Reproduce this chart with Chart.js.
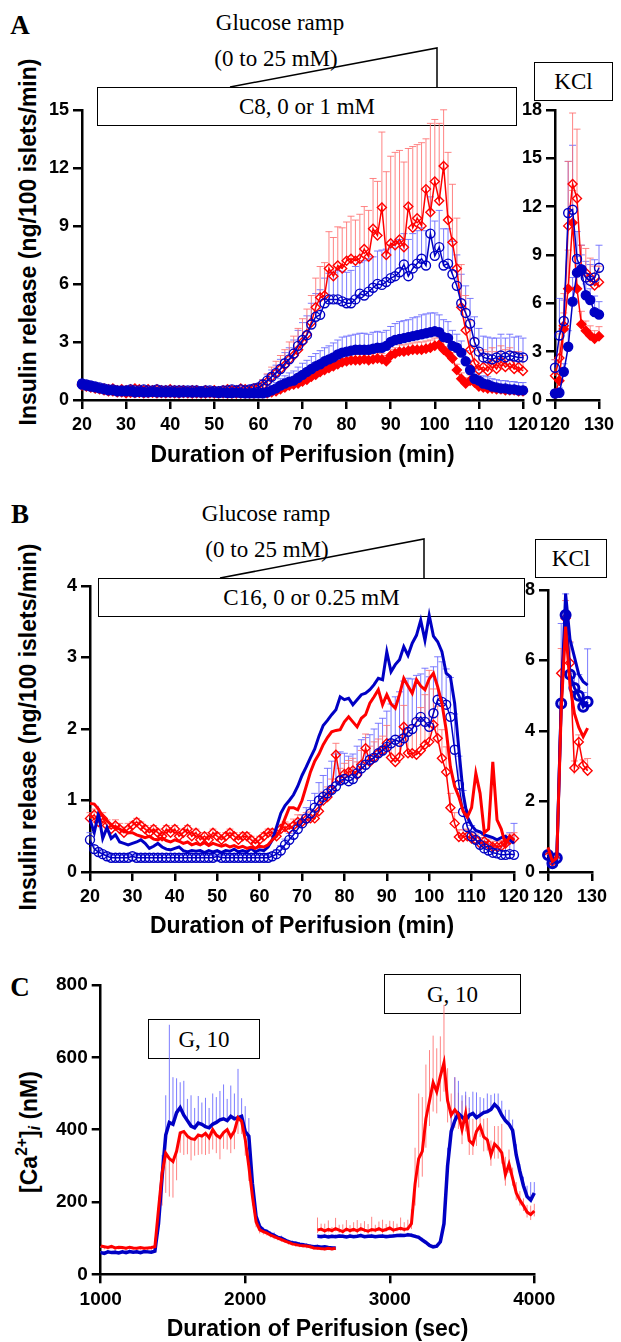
<!DOCTYPE html>
<html><head><meta charset="utf-8">
<script src="https://cdn.jsdelivr.net/npm/chart.js@4.4.1/dist/chart.umd.min.js"></script>
<style>
html,body{margin:0;padding:0;background:#fff;}
#page{position:relative;width:621px;height:1342px;overflow:hidden;background:#fff;}
canvas{position:absolute;}
.t{position:absolute;transform:translate(-50%,-50%);white-space:nowrap;font-family:"Liberation Serif","Times New Roman",serif;font-size:23px;color:#000;line-height:1;}
.pl{position:absolute;transform:translate(-50%,-50%);font-family:"Liberation Serif","Times New Roman",serif;font-weight:bold;font-size:27px;line-height:1;}
.box{position:absolute;box-sizing:border-box;border:1.5px solid #000;display:flex;align-items:center;justify-content:center;font-family:"Liberation Serif","Times New Roman",serif;font-size:23px;line-height:1;white-space:nowrap;}
.yt{position:absolute;transform:translate(-50%,-50%) rotate(-90deg);white-space:nowrap;font-family:"Liberation Sans",Arial,sans-serif;font-weight:bold;font-size:23px;line-height:1;}
.yt sup{font-size:0.68em;vertical-align:0.6em;line-height:0;}
.yt sub{font-size:0.68em;vertical-align:-0.2em;line-height:0;}
</style></head>
<body><div id="page">
<svg width="621" height="1342" style="position:absolute;left:0;top:0">
<polyline points="230,87 437,48 437,87" fill="none" stroke="#000" stroke-width="1.5"/>
<polyline points="220,578 424,539 424,578" fill="none" stroke="#000" stroke-width="1.5"/>
</svg>
<div class="pl" style="left:20px;top:25px">A</div>
<div class="t" style="left:280px;top:22px">Glucose ramp</div>
<div class="t" style="left:276px;top:58px">(0 to 25 mM)</div>
<div class="box" style="left:97px;top:87px;width:420px;height:39px">C8, 0 or 1 mM</div>
<div class="box" style="left:534px;top:62px;width:79px;height:39px">KCl</div>
<div class="yt" style="left:28px;top:242px">Insulin release (ng/100 islets/min)</div>

<div class="pl" style="left:20px;top:514px">B</div>
<div class="t" style="left:266px;top:513px">Glucose ramp</div>
<div class="t" style="left:267px;top:549px">(0 to 25 mM)</div>
<div class="box" style="left:98px;top:578px;width:427px;height:39px">C16, 0 or 0.25 mM</div>
<div class="box" style="left:535px;top:539px;width:72px;height:39px">KCl</div>
<div class="yt" style="left:28px;top:727px">Insulin release (ng/100 islets/min)</div>

<div class="pl" style="left:20px;top:987px">C</div>
<div class="box" style="left:148px;top:1019px;width:112px;height:40px">G, 10</div>
<div class="box" style="left:384px;top:974px;width:137px;height:40px">G, 10</div>
<div class="yt" style="left:29px;top:1132px">[Ca<sup>2+</sup>]<sub><i>i</i></sub> (nM)</div>

<canvas id="cA"></canvas>
<canvas id="cAk"></canvas>
<canvas id="cB"></canvas>
<canvas id="cBk"></canvas>
<canvas id="cC"></canvas>
</div>
<script>
// ---------- Panel A (C8) : minutes 20..120 ----------
const minA = Array.from({length:101},(_, i)=>20+i);
const aYTicks = [0,3,6,9,12,15];
const aXTicks = [20,30,40,50,60,70,80,90,100,110,120];
const aBlueOpen = [
0.85,0.8,0.75,0.7,0.65,0.6,0.55,0.55,0.5,0.5,
0.5,0.55,0.5,0.5,0.55,0.5,0.5,0.55,0.5,0.5,
0.5,0.5,0.5,0.5,0.5,0.5,0.5,0.45,0.5,0.5,
0.45,0.45,0.5,0.5,0.55,0.5,0.55,0.5,0.55,0.6,
0.65,0.8,1.0,1.2,1.4,1.6,1.9,2.1,2.4,2.8,
3.1,3.35,3.9,4.3,4.4,5.0,5.2,5.2,5.2,5.1,
5.0,5.0,5.2,5.5,5.4,5.6,5.8,6.0,5.95,6.1,
6.3,6.4,6.6,7.0,6.4,6.8,7.05,7.3,6.95,8.6,
7.45,7.9,6.95,7.05,6.5,5.9,5.0,4.5,3.95,3.0,
2.5,2.2,2.15,2.1,2.2,2.3,2.2,2.3,2.25,2.2,
2.2];
const aBlueOpenErr = [
0.2,0.2,0.2,0.15,0.15,0.15,0.15,0.15,0.15,0.15,
0.15,0.15,0.15,0.15,0.15,0.15,0.15,0.15,0.15,0.15,
0.15,0.15,0.15,0.15,0.15,0.15,0.15,0.15,0.15,0.15,
0.15,0.15,0.15,0.15,0.15,0.15,0.15,0.15,0.2,0.2,
0.2,0.25,0.3,0.35,0.4,0.5,0.55,0.6,0.7,0.8,
0.9,1.0,1.1,1.2,1.3,1.3,1.35,1.4,1.5,1.55,
1.6,1.7,1.7,1.6,1.8,1.7,1.6,1.7,1.8,1.7,
1.7,1.8,1.7,1.6,1.9,1.8,1.7,1.6,1.8,1.9,
1.8,1.9,1.9,1.8,1.7,1.6,1.5,1.4,1.3,1.3,
1.2,1.1,1.1,1.1,1.0,1.1,1.0,1.1,1.0,1.1,
1.0];
const aRedOpen = [
0.8,0.75,0.7,0.65,0.6,0.6,0.55,0.6,0.5,0.55,
0.5,0.55,0.6,0.55,0.5,0.55,0.5,0.55,0.5,0.5,
0.55,0.5,0.5,0.5,0.45,0.5,0.5,0.45,0.5,0.45,
0.5,0.45,0.5,0.55,0.5,0.5,0.6,0.55,0.5,0.6,
0.65,0.75,0.95,1.2,1.4,1.6,1.8,2.1,2.3,2.6,
3.0,3.4,4.0,4.8,5.3,5.4,6.8,6.4,6.95,6.8,
7.2,7.3,7.2,7.3,7.8,7.4,8.85,8.5,9.95,7.5,
8.1,8.0,8.3,7.9,10.0,8.9,9.4,9.0,10.9,9.7,
11.3,10.3,12.1,9.3,8.15,6.8,4.8,3.6,2.6,1.9,
1.55,1.7,1.5,1.9,1.6,2.0,1.7,1.9,1.6,1.7,
1.5];
const aRedOpenErr = [
0.15,0.15,0.15,0.15,0.15,0.15,0.15,0.15,0.15,0.15,
0.15,0.15,0.15,0.15,0.15,0.15,0.15,0.15,0.15,0.15,
0.15,0.15,0.15,0.15,0.15,0.15,0.15,0.15,0.15,0.15,
0.15,0.15,0.15,0.15,0.15,0.15,0.15,0.15,0.15,0.15,
0.2,0.3,0.4,0.5,0.6,0.7,0.8,0.9,1.0,1.1,
1.2,1.3,1.4,1.5,1.6,1.7,1.9,2.0,2.0,2.1,
2.0,2.2,2.1,2.3,2.2,2.4,2.6,2.8,3.9,4.3,
4.5,4.8,4.6,4.4,3.0,4.2,3.8,4.3,2.6,4.6,
3.2,4.0,2.9,3.5,3.0,2.6,2.2,1.8,1.5,1.3,
1.0,0.9,1.0,0.8,0.9,0.8,0.9,0.8,0.9,0.8,
0.8];
const aBlueFill = [
0.8,0.75,0.7,0.65,0.6,0.55,0.5,0.5,0.45,0.45,
0.45,0.45,0.4,0.42,0.4,0.4,0.42,0.4,0.4,0.4,
0.4,0.4,0.38,0.4,0.4,0.38,0.4,0.38,0.38,0.4,
0.38,0.36,0.38,0.36,0.36,0.38,0.36,0.35,0.35,0.35,
0.35,0.35,0.4,0.5,0.6,0.75,0.85,0.95,1.0,1.15,
1.3,1.45,1.6,1.75,1.85,2.0,2.1,2.2,2.35,2.45,
2.5,2.55,2.6,2.6,2.6,2.6,2.65,2.7,2.7,2.8,
3.0,3.1,3.15,3.2,3.25,3.3,3.35,3.4,3.45,3.5,
3.55,3.5,3.25,3.2,2.8,2.7,2.45,2.0,1.55,1.1,
1.0,0.85,0.8,0.7,0.65,0.6,0.6,0.55,0.55,0.5,
0.5];
const aBlueFillErr = [
0.12,0.12,0.12,0.12,0.12,0.12,0.12,0.12,0.12,0.12,
0.12,0.12,0.12,0.12,0.12,0.12,0.12,0.12,0.12,0.12,
0.12,0.12,0.12,0.12,0.12,0.12,0.12,0.12,0.12,0.12,
0.12,0.12,0.12,0.12,0.12,0.12,0.12,0.12,0.12,0.12,
0.12,0.15,0.2,0.25,0.3,0.35,0.4,0.45,0.5,0.55,
0.6,0.6,0.65,0.65,0.7,0.7,0.7,0.75,0.75,0.8,
0.8,0.8,0.8,0.85,0.85,0.8,0.85,0.85,0.8,0.8,
0.8,0.85,0.9,0.9,0.9,0.95,0.95,1.0,1.0,1.0,
0.95,0.9,0.9,0.85,0.8,0.7,0.6,0.55,0.5,0.45,
0.4,0.4,0.4,0.4,0.4,0.4,0.4,0.4,0.4,0.4,
0.4];
const aRedFill = [
0.75,0.7,0.65,0.6,0.55,0.5,0.45,0.45,0.4,0.4,
0.35,0.38,0.36,0.38,0.35,0.36,0.38,0.35,0.36,0.35,
0.36,0.35,0.34,0.36,0.35,0.34,0.35,0.33,0.34,0.35,
0.34,0.33,0.35,0.34,0.33,0.34,0.33,0.34,0.33,0.34,
0.35,0.35,0.35,0.4,0.45,0.55,0.65,0.75,0.8,0.85,
0.95,1.05,1.2,1.3,1.45,1.55,1.65,1.75,1.85,1.95,
2.0,2.05,2.05,2.05,2.1,2.05,2.1,2.15,2.1,2.0,
2.3,2.4,2.5,2.5,2.55,2.6,2.6,2.6,2.65,2.7,
2.8,2.85,2.6,2.4,2.15,1.55,1.1,0.85,1.0,0.9,
0.7,0.65,0.6,0.6,0.55,0.55,0.5,0.5,0.5,0.45,
0.45];
const aRedFillErr = [
0.1,0.1,0.1,0.1,0.1,0.1,0.1,0.1,0.1,0.1,
0.1,0.1,0.1,0.1,0.1,0.1,0.1,0.1,0.1,0.1,
0.1,0.1,0.1,0.1,0.1,0.1,0.1,0.1,0.1,0.1,
0.1,0.1,0.1,0.1,0.1,0.1,0.1,0.1,0.1,0.1,
0.1,0.1,0.12,0.14,0.16,0.18,0.2,0.22,0.24,0.26,
0.28,0.3,0.3,0.3,0.3,0.3,0.3,0.3,0.3,0.3,
0.3,0.3,0.3,0.3,0.3,0.3,0.3,0.3,0.3,0.3,
0.3,0.3,0.35,0.35,0.35,0.35,0.4,0.4,0.4,0.4,
0.4,0.4,0.4,0.35,0.3,0.3,0.3,0.3,0.3,0.3,
0.25,0.25,0.25,0.25,0.25,0.25,0.25,0.25,0.25,0.25,
0.25];

// Panel A KCl
const minAk = [120,121,122,123,124,125,126,127,128,129,130];
const akYTicks = [0,3,6,9,12,15,18];
const kXTicks = [120,130];
const akBlueOpen = [2.0,4.0,4.9,11.6,11.8,8.75,8.1,7.6,7.4,7.6,8.2];
const akBlueOpenErr = [0.5,2.3,1.3,3.2,4.0,1.7,1.5,1.0,1.0,1.1,1.4];
const akBlueFill = [0.4,0.45,1.75,3.3,6.1,7.9,8.1,6.5,6.2,5.45,5.3];
const akBlueFillErr = [0.2,0.3,0.5,1.0,1.5,1.0,0.9,0.7,0.7,1.0,0.8];
const akRedOpen = [1.5,2.6,4.6,10.8,13.4,12.5,8.0,7.9,7.6,7.1,7.3];
const akRedOpenErr = [1.0,1.5,2.0,4.0,4.4,4.3,1.6,1.5,1.2,1.2,1.0];
const akRedFill = [0.4,1.2,4.4,6.9,11.0,6.9,4.7,4.3,4.0,3.8,3.95];
const akRedFillErr = [0.2,0.5,1.0,2.4,2.0,1.2,0.8,0.6,0.6,0.5,0.6];

// ---------- Panel B (C16) ----------
const minB = Array.from({length:101},(_, i)=>20+i);
const bYTicks = [0,1,2,3,4];
const bXTicks = [20,30,40,50,60,70,80,90,100,110,120];
const bRedOpen = [
0.75,0.8,0.7,0.75,0.65,0.6,0.65,0.6,0.55,0.6,
0.65,0.7,0.65,0.6,0.55,0.6,0.55,0.5,0.6,0.55,
0.6,0.5,0.55,0.6,0.5,0.55,0.45,0.5,0.45,0.55,
0.5,0.45,0.5,0.55,0.5,0.45,0.5,0.5,0.45,0.4,
0.45,0.5,0.55,0.55,0.5,0.6,0.63,0.6,0.65,0.7,
0.7,0.73,0.75,0.75,0.85,1.0,1.05,1.15,1.64,1.3,
1.37,1.4,1.42,1.36,1.5,1.73,1.54,1.6,1.66,1.7,
1.8,1.6,1.54,1.61,2.03,1.66,1.66,1.64,1.7,1.78,
1.82,2.06,1.87,1.59,1.4,0.9,0.68,0.49,0.49,0.5,
0.47,0.45,0.4,0.43,0.38,0.35,0.35,0.36,0.4,0.45,
0.47];
const bRedOpenErr = [
0.08,0.08,0.08,0.08,0.08,0.08,0.08,0.08,0.08,0.08,
0.05,0.05,0.05,0.05,0.05,0.05,0.05,0.05,0.05,0.05,
0.05,0.05,0.05,0.05,0.05,0.05,0.05,0.05,0.05,0.05,
0.05,0.05,0.05,0.05,0.05,0.05,0.05,0.05,0.05,0.05,
0.05,0.05,0.05,0.05,0.05,0.06,0.07,0.08,0.09,0.1,
0.1,0.1,0.1,0.11,0.11,0.12,0.14,0.15,0.16,0.15,
0.15,0.16,0.17,0.18,0.2,0.2,0.22,0.22,0.2,0.2,
0.25,0.25,0.3,0.3,0.3,0.35,0.4,0.5,0.6,0.7,
1.0,0.5,0.45,0.4,0.35,0.2,0.15,0.1,0.1,0.1,
0.08,0.08,0.08,0.08,0.08,0.08,0.08,0.08,0.08,0.08,
0.08];
const bBlueOpen = [
0.45,0.32,0.28,0.25,0.22,0.2,0.2,0.2,0.2,0.2,
0.22,0.2,0.2,0.2,0.2,0.2,0.2,0.2,0.2,0.2,
0.2,0.2,0.2,0.2,0.2,0.2,0.2,0.2,0.2,0.2,
0.22,0.2,0.2,0.2,0.2,0.2,0.2,0.2,0.2,0.2,
0.2,0.2,0.2,0.22,0.25,0.3,0.38,0.45,0.52,0.6,
0.68,0.75,0.82,0.9,1.0,1.05,1.1,1.15,1.2,1.28,
1.3,1.27,1.3,1.38,1.45,1.5,1.57,1.6,1.66,1.7,
1.75,1.8,1.85,1.82,1.87,1.96,2.0,2.1,2.17,2.1,
2.03,2.22,2.41,2.38,2.34,2.17,1.71,1.22,0.84,0.63,
0.5,0.45,0.38,0.33,0.3,0.27,0.26,0.24,0.24,0.25,
0.24];
const bBlueOpenErr = [
0.1,0.05,0.04,0.03,0.03,0.03,0.03,0.03,0.03,0.03,
0.03,0.03,0.03,0.03,0.03,0.03,0.03,0.03,0.03,0.03,
0.03,0.03,0.03,0.03,0.03,0.03,0.03,0.03,0.03,0.03,
0.03,0.03,0.03,0.03,0.03,0.03,0.03,0.03,0.03,0.03,
0.03,0.03,0.03,0.05,0.06,0.07,0.08,0.09,0.1,0.1,
0.12,0.15,0.18,0.2,0.25,0.3,0.35,0.4,0.45,0.4,
0.36,0.35,0.35,0.38,0.4,0.38,0.35,0.4,0.42,0.45,
0.5,0.55,0.6,0.7,0.8,0.75,0.7,0.65,0.6,0.75,
0.7,0.65,0.6,0.56,0.5,0.55,0.5,0.4,0.3,0.2,
0.15,0.12,0.1,0.1,0.1,0.1,0.1,0.12,0.15,0.3,
0.44];
const bRedLine = [
0.96,0.95,0.88,0.78,0.72,0.66,0.62,0.6,0.57,0.55,
0.55,0.52,0.5,0.48,0.5,0.46,0.45,0.48,0.44,0.42,
0.45,0.43,0.4,0.42,0.38,0.4,0.38,0.41,0.37,0.4,
0.38,0.36,0.38,0.35,0.37,0.34,0.36,0.33,0.35,0.33,
0.36,0.35,0.38,0.45,0.5,0.6,0.75,0.9,0.9,0.87,
1.0,1.2,1.4,1.55,1.65,1.78,1.88,1.96,1.98,1.99,
2.1,2.17,2.1,2.03,2.15,2.2,2.36,2.45,2.55,2.34,
2.48,2.35,2.29,2.48,2.71,2.6,2.5,2.69,2.6,2.55,
2.7,2.78,2.59,2.36,1.99,1.47,1.2,1.05,0.85,0.77,
0.9,1.38,1.1,0.55,0.6,1.54,0.73,0.6,0.38,0.5,
0.45];
const bBlueLine = [
0.73,0.55,0.82,0.47,0.62,0.47,0.52,0.42,0.4,0.38,
0.4,0.42,0.45,0.4,0.33,0.36,0.4,0.35,0.32,0.31,
0.33,0.35,0.3,0.28,0.3,0.29,0.3,0.27,0.3,0.28,
0.3,0.27,0.3,0.29,0.32,0.28,0.3,0.28,0.33,0.28,
0.31,0.3,0.35,0.45,0.63,0.82,0.93,1.0,1.08,1.2,
1.35,1.47,1.6,1.72,1.9,2.05,2.12,2.2,2.27,2.45,
2.41,2.43,2.34,2.41,2.48,2.5,2.55,2.62,2.71,2.69,
3.08,2.8,2.9,2.97,3.15,3.03,3.2,3.31,3.52,3.24,
3.59,3.3,3.22,3.08,2.78,2.73,2.36,1.71,1.1,0.77,
0.65,0.58,0.56,0.52,0.5,0.48,0.45,0.48,0.5,0.45,
0.4];

// Panel B KCl
const minBk = [120,121,122,123,124,125,126,127,128,129];
const bkYTicks = [0,2,4,6,8];
const bkBlueOpen = [0.48,0.25,0.4,4.78,7.29,5.6,5.22,5.0,4.69,4.83];
const bkBlueOpenErr = [0.1,0.1,0.1,2.27,0.6,0.9,0.4,0.6,0.4,1.5];
const bkRedOpen = [0.45,0.3,0.35,5.64,7.2,5.93,2.95,3.69,3.03,2.87];
const bkRedOpenErr = [0.05,0.05,0.1,0.7,0.5,0.6,0.2,0.2,0.15,0.35];
const bkBlueLine = [0.5,0.3,0.35,4.8,7.9,6.6,6.1,5.6,5.4,5.3];
const bkRedLine = [0.7,0.3,0.4,4.6,6.96,5.3,4.5,4.1,3.84,4.08];

// ---------- Panel C ([Ca2+]i) ----------
const secC1 = Array.from({length:66},(_, i)=>1000+25*i);
const secC2 = Array.from({length:61},(_, i)=>2500+25*i);
const cXTicks = [1000,2000,3000,4000];
const cYTicks = [0,200,400,600,800];
const cBlue1 = [60,58,62,60,61,59,62,60,63,61,
62,60,63,62,61,64,140,270,385,420,
415,447,461,440,425,410,405,418,415,408,
405,415,420,427,430,425,437,430,433,437,
395,382,250,160,132,122,118,112,108,102,
100,95,90,87,86,83,82,80,78,76,
77,75,76,74,73,73];
const cBlue1Up = [4,6,5,4,6,5,4,7,5,4,6,5,4,6,5,6,
30,60,110,270,130,95,70,95,60,85,55,75,60,80,55,85,70,80,95,60,85,70,135,50,70,50,30,15,10,8,
7,6,8,6,7,5,6,7,5,6,5,6,5,4,5,4,5,4,5,4];
const cRed1 = [78,76,74,77,73,75,74,72,75,73,72,74,72,73,74,76,
180,280,335,320,312,340,391,395,382,375,373,385,382,390,378,400,385,378,392,400,380,396,433,423,373,298,215,145,123,118,
114,108,104,100,96,92,88,84,82,80,79,78,76,73,72,71,70,72,70,72];
const cRed1Down = [5,7,6,5,8,6,5,7,6,5,7,6,5,6,7,8,
60,90,110,105,100,80,55,65,50,60,45,55,50,60,45,55,50,60,45,55,45,50,45,35,45,40,25,15,10,8,
7,6,7,6,6,5,6,5,6,5,5,6,5,5,4,5,4,5,4,5];
const cBlue2 = [105,104,106,103,105,104,106,105,103,106,
104,105,107,104,105,106,104,105,106,104,
105,106,107,108,107,109,108,105,102,95,
88,80,76,78,90,140,300,395,425,445,
435,425,440,445,433,440,447,450,456,470,
460,440,425,415,398,330,285,245,215,205,
225];
const cBlue2Up = [5,6,4,7,5,6,4,5,6,5,
5,4,6,5,4,6,5,4,5,6,
5,6,5,4,5,6,5,6,5,6,
5,6,5,6,8,20,50,60,120,90,
60,80,50,60,70,50,40,50,40,30,
40,40,30,40,30,30,20,25,30,50,
30];
const cRed2 = [122,125,120,124,121,126,122,118,125,121,
124,120,126,122,119,124,122,126,121,124,
128,122,125,127,124,126,140,250,320,340,
430,480,530,505,548,585,480,440,455,442,
400,445,370,360,395,410,380,372,330,360,
350,336,275,305,265,225,205,190,172,165,
175];
const cRed2Up = [35,15,20,25,10,30,15,20,25,15,
20,30,15,25,20,35,15,20,30,15,
20,25,15,30,20,25,40,100,180,150,
150,140,130,120,110,160,90,60,90,60,
80,50,90,70,60,40,50,60,40,50,
60,80,50,40,30,30,25,20,20,25,
20];
const cRed2Down = [8,6,7,8,6,7,8,6,7,8,
6,7,8,6,7,8,6,7,8,6,
7,8,6,7,8,6,15,60,80,70,
80,70,80,60,70,80,60,40,50,40,
40,50,40,30,40,30,40,30,30,40,
30,30,30,25,20,20,15,15,15,15,
15];

// ---------- helpers ----------
const RED = '#ff0000', BLUE = '#0000c4';
const RED_E = 'rgba(255,110,110,0.85)', BLUE_E = 'rgba(100,100,255,0.85)';
const FS = '"Liberation Sans", Arial, Helvetica, sans-serif';

const errorBars = {
  id: 'errorBars',
  beforeDatasetsDraw(chart) {
    const {ctx} = chart; const xs = chart.scales.x, ys = chart.scales.y;
    ctx.save();
    chart.data.datasets.forEach(ds => {
      if (!ds.errUp && !ds.errDown) return;
      ctx.strokeStyle = ds.errColor; ctx.lineWidth = ds.errWidth || 1;
      ds.data.forEach((p, i) => {
        const up = ds.errUp ? ds.errUp[i] : 0, dn = ds.errDown ? ds.errDown[i] : 0;
        if (!up && !dn) return;
        const px = xs.getPixelForValue(p.x);
        const y0 = ys.getPixelForValue(p.y - dn), y1 = ys.getPixelForValue(p.y + up);
        const cap = ds.errCap || 0;
        ctx.beginPath(); ctx.moveTo(px, y0); ctx.lineTo(px, y1);
        if (cap && up) { ctx.moveTo(px - cap, y1); ctx.lineTo(px + cap, y1); }
        if (cap && dn) { ctx.moveTo(px - cap, y0); ctx.lineTo(px + cap, y0); }
        ctx.stroke();
      });
    });
    ctx.restore();
  }
};

function ser(xs, ys, o) {
  if (xs.length !== ys.length) console.error('length mismatch', o.name, xs.length, ys.length);
  if (o.up && o.up.length !== xs.length) console.error('err length mismatch', o.name, o.up.length);
  if (o.down && o.down.length !== xs.length) console.error('err length mismatch', o.name, o.down.length);
  return {
    label: o.name,
    data: xs.map((x, i) => ({x: x, y: ys[i]})),
    borderColor: o.color, backgroundColor: o.color,
    borderWidth: o.lw == null ? 1.5 : o.lw,
    pointRadius: o.r || 0, pointHoverRadius: o.r || 0,
    pointStyle: o.style || 'circle',
    pointBorderWidth: o.pbw == null ? 1.4 : o.pbw,
    pointBorderColor: o.color,
    pointBackgroundColor: o.fill ? o.color : 'rgba(255,255,255,0)',
    fill: false, tension: 0, clip: false,
    errUp: o.up, errDown: o.down, errColor: o.ec, errCap: o.cap || 0, errWidth: o.ew || 1
  };
}

function mk(id, box, area, xr, yr, xTicks, yTicks, datasets, xTitle, titleCy, tsize) {
  const cv = document.getElementById(id);
  cv.width = box.w; cv.height = box.h;
  cv.style.left = box.left + 'px'; cv.style.top = box.top + 'px';
  cv.style.width = box.w + 'px'; cv.style.height = box.h + 'px';
  const yW = area.l - box.left, xH = box.top + box.h - area.b;
  const pad = {left: 0, top: area.t - box.top, right: box.left + box.w - area.r, bottom: 0};
  const tickFont = {family: FS, size: tsize || 18, weight: 'bold'};
  const grid = {display: true, drawOnChartArea: false, drawTicks: true, tickLength: 9, tickWidth: 2.5, lineWidth: 2.5, tickColor: '#000', color: '#000'};
  const border = {display: true, color: '#000', width: 2.5};
  new Chart(cv, {
    type: 'line',
    data: {datasets: datasets},
    plugins: [errorBars],
    options: {
      responsive: false, animation: false, devicePixelRatio: 1,
      layout: {padding: pad},
      plugins: {legend: {display: false}, tooltip: {enabled: false}, title: {display: false}},
      scales: {
        x: {type: 'linear', min: xr[0], max: xr[1],
          afterBuildTicks: s => { s.ticks = xTicks.map(v => ({value: v})); },
          afterFit: s => { s.height = xH; },
          grid: grid, border: border,
          ticks: {font: tickFont, color: '#000', padding: 5, maxRotation: 0, autoSkip: false, callback: v => String(v)},
          title: {display: !!xTitle, text: xTitle || '', color: '#000',
            font: {family: FS, size: 23, weight: 'bold', lineHeight: 1},
            padding: {top: 0, bottom: xTitle ? (box.top + box.h - titleCy - 11.5) : 0}}
        },
        y: {type: 'linear', min: yr[0], max: yr[1],
          afterBuildTicks: s => { s.ticks = yTicks.map(v => ({value: v})); },
          afterFit: s => { s.width = yW; },
          grid: grid, border: border,
          ticks: {font: tickFont, color: '#000', padding: 4, autoSkip: false, callback: v => String(v)}
        }
      }
    }
  });
}

const cap = 3.5;
// Panel A main
mk('cA', {left: 0, top: 95, w: 545, h: 380}, {l: 82, t: 109, r: 523, b: 400}, [20, 120], [0, 15], aXTicks, aYTicks, [
  ser(minA, aBlueOpen, {name: 'C8 0 mM (open)', color: BLUE, r: 4.5, up: aBlueOpenErr, ec: BLUE_E, cap}),
  ser(minA, aBlueFill, {name: 'C8 0 mM (filled)', color: BLUE, r: 4.5, fill: true, up: aBlueFillErr, ec: BLUE_E, cap}),
  ser(minA, aRedOpen, {name: 'C8 1 mM (open)', color: RED, r: 4.5, style: 'rectRot', up: aRedOpenErr, ec: RED_E, cap}),
  ser(minA, aRedFill, {name: 'C8 1 mM (filled)', color: RED, r: 4.5, style: 'rectRot', fill: true, up: aRedFillErr, ec: RED_E, cap})
], 'Duration of Perifusion (min)', 456, 18);

// Panel A KCl
mk('cAk', {left: 500, top: 95, w: 121, h: 380}, {l: 555, t: 108, r: 599, b: 400}, [120, 130], [0, 18], kXTicks, akYTicks, [
  ser(minAk, akBlueOpen, {name: 'KCl 0 mM (open)', color: BLUE, r: 4.5, up: akBlueOpenErr, ec: BLUE_E, cap}),
  ser(minAk, akBlueFill, {name: 'KCl 0 mM (filled)', color: BLUE, r: 4.5, fill: true, up: akBlueFillErr, ec: BLUE_E, cap}),
  ser(minAk, akRedOpen, {name: 'KCl 1 mM (open)', color: RED, r: 4.5, style: 'rectRot', up: akRedOpenErr, ec: RED_E, cap}),
  ser(minAk, akRedFill, {name: 'KCl 1 mM (filled)', color: RED, r: 4.5, style: 'rectRot', fill: true, up: akRedFillErr, ec: RED_E, cap})
], null, 0, 18);

// Panel B main
mk('cB', {left: 0, top: 566, w: 545, h: 380}, {l: 90, t: 586, r: 514, b: 872}, [20, 120], [0, 4], bXTicks, bYTicks, [
  ser(minB, bRedLine, {name: 'C16 line red', color: RED, lw: 3}),
  ser(minB, bBlueLine, {name: 'C16 line blue', color: BLUE, lw: 3}),
  ser(minB, bBlueOpen, {name: 'C16 open blue', color: BLUE, r: 4.5, up: bBlueOpenErr, ec: BLUE_E, cap}),
  ser(minB, bRedOpen, {name: 'C16 open red', color: RED, r: 4.5, style: 'rectRot', up: bRedOpenErr, ec: RED_E, cap})
], 'Duration of Perifusion (min)', 927, 18);

// Panel B KCl
mk('cBk', {left: 500, top: 566, w: 121, h: 380}, {l: 548, t: 590, r: 592, b: 872}, [120, 130], [0, 8], kXTicks, bkYTicks, [
  ser(minBk, bkRedLine, {name: 'KCl line red', color: RED, lw: 3}),
  ser(minBk, bkBlueLine, {name: 'KCl line blue', color: BLUE, lw: 3}),
  ser(minBk, bkBlueOpen, {name: 'KCl open blue', color: BLUE, r: 4.5, lw: 3, pbw: 3, up: bkBlueOpenErr, ec: BLUE_E, cap}),
  ser(minBk, bkRedOpen, {name: 'KCl open red', color: RED, r: 4.5, style: 'rectRot', up: bkRedOpenErr, ec: RED_E, cap})
], null, 0, 18);

// Panel C
mk('cC', {left: 0, top: 965, w: 621, h: 377}, {l: 100.7, t: 985, r: 534.3, b: 1274.3}, [1000, 4000], [0, 800], cXTicks, cYTicks, [
  ser(secC1, cRed1, {name: 'Ca red 1', color: RED, lw: 3, down: cRed1Down, ec: RED_E}),
  ser(secC2, cRed2, {name: 'Ca red 2', color: RED, lw: 3, up: cRed2Up, down: cRed2Down, ec: RED_E}),
  ser(secC1, cBlue1, {name: 'Ca blue 1', color: BLUE, lw: 3.5, up: cBlue1Up, ec: BLUE_E}),
  ser(secC2, cBlue2, {name: 'Ca blue 2', color: BLUE, lw: 3.5, up: cBlue2Up, ec: BLUE_E})
], 'Duration of Perifusion (sec)', 1330, 19);
</script>
</body></html>
